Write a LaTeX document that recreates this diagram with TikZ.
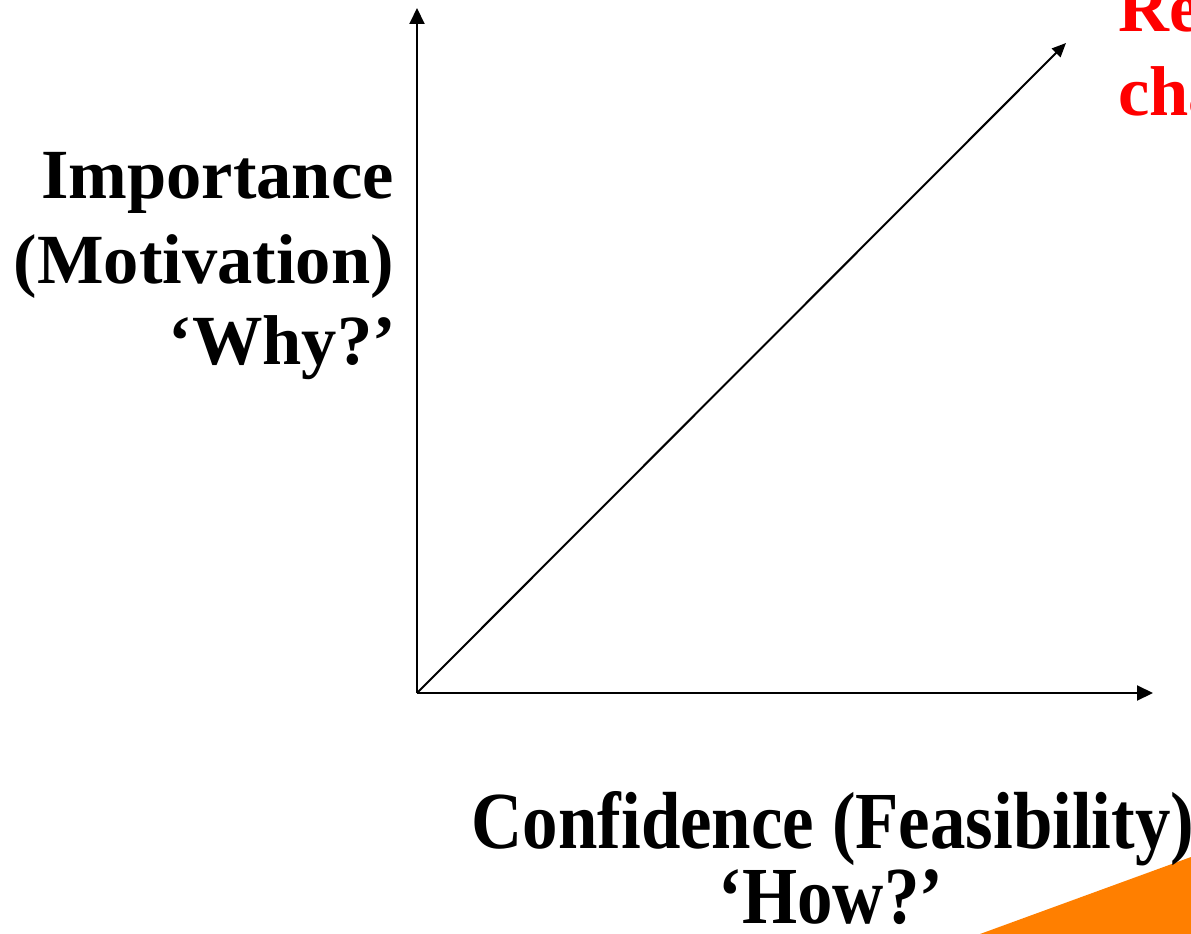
\documentclass[tikz,border=0pt]{standalone}
\usepackage{fontspec}
\setmainfont{Liberation Serif}
\usetikzlibrary{arrows.meta}
\definecolor{redtxt}{RGB}{255,0,0}
\definecolor{orangefill}{RGB}{255,127,0}
\tikzset{
  axis/.style={line width=2pt, -{Triangle[length=16pt,width=15pt]}},
  diag/.style={line width=2pt, -{Triangle[length=14pt,width=12pt]}},
  lbl/.style={inner sep=0pt, font=\fontsize{70.5}{80}\selectfont\bfseries},
  bot/.style={inner sep=0pt, font=\fontsize{81}{90}\selectfont\bfseries},
  redlbl/.style={lbl, text=redtxt}
}
\begin{document}
\begin{tikzpicture}[x=1pt,y=-1pt]
\useasboundingbox (0,0) rectangle (1191,934);
\clip (0,0) rectangle (1191,934);
% orange shape
\fill[orangefill] (980,934) -- (1191,857) -- (1191,934) -- cycle;
% axes
\coordinate (O) at (417,693);
\coordinate (Ytop) at (417,8);
\coordinate (Xend) at (1153,693);
\coordinate (Dend) at (1066,43);
\draw[axis] (O) -- (Ytop);
\draw[axis] (O) -- (Xend);
\draw[diag] (O) -- (Dend);
% left labels
\node[lbl, anchor=base east] (imp) at (394,198) {Importance};
\node[lbl, anchor=base east] (mot) at (394,283) {(Motivation)};
\node[lbl, anchor=base east] (why) at (396,364) {‘Why?’};
% bottom labels
\node[bot, anchor=base, xscale=0.875, transform shape] (conf) at (833,848) {Confidence (Feasibility)};
\node[bot, anchor=base, xscale=0.875, transform shape] (how) at (831,923) {‘How?’};
% red labels (cut off at the right edge)
\node[redlbl, anchor=base west] (re) at (1118,32) {Readiness};
\node[redlbl, anchor=base west] (ch) at (1118,115) {change};
\end{tikzpicture}
\end{document}
